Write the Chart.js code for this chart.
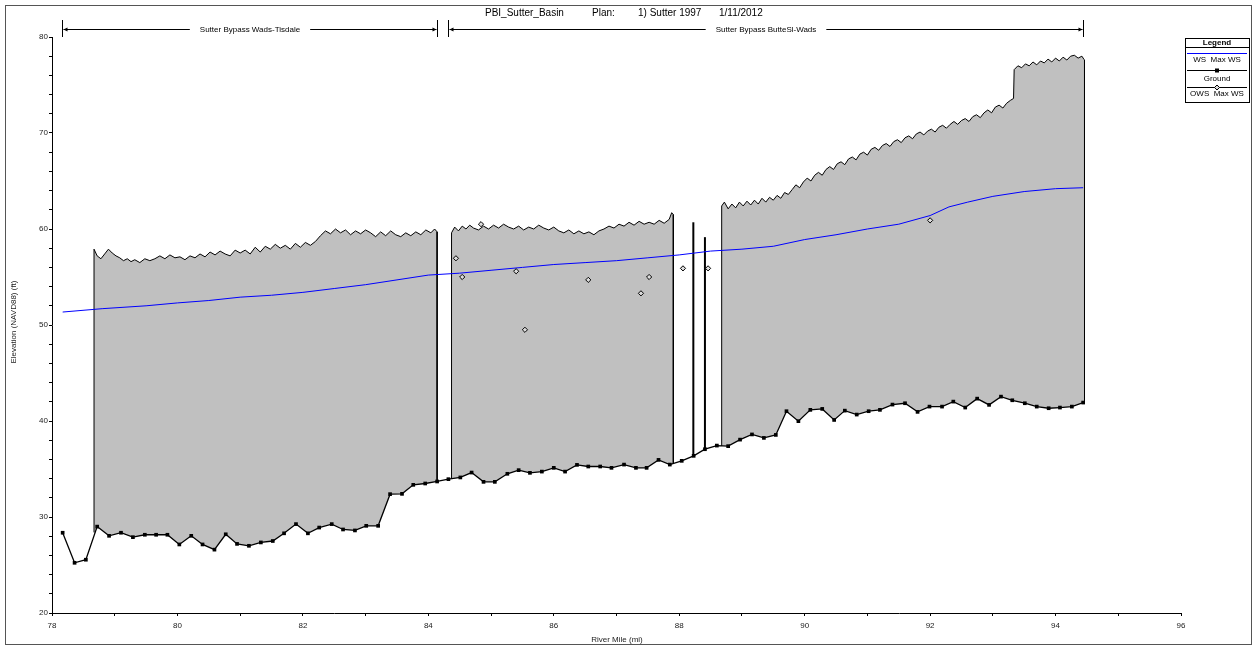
<!DOCTYPE html>
<html>
<head>
<meta charset="utf-8">
<script src="https://cdn.jsdelivr.net/npm/chart.js@4.4.0/dist/chart.umd.min.js"></script>
<style>
  html, body { margin: 0; padding: 0; background: #fff; }
  #wrap { width: 1255px; height: 646px; position: relative; }
</style>
</head>
<body>
<div id="wrap"><canvas id="profileChart"></canvas></div>
<script>
// Ground profile (river mile / elevation ft)
const groundMiles = [78.17, 78.36, 78.54, 78.72, 78.91, 79.10, 79.29, 79.48, 79.66, 79.84, 80.03, 80.22, 80.40, 80.59, 80.77, 80.95,
  81.14, 81.33, 81.52, 81.70, 81.89, 82.08, 82.26, 82.46, 82.64, 82.83, 83.01, 83.20, 83.39, 83.58, 83.76, 83.95, 84.14, 84.32,
  84.51, 84.69, 84.88, 85.06, 85.26, 85.44, 85.62, 85.81, 86.00, 86.18, 86.37, 86.55, 86.74, 86.92, 87.12, 87.31, 87.48, 87.67,
  87.85, 88.04, 88.23, 88.41, 88.60, 88.78, 88.97, 89.16, 89.35, 89.54, 89.71, 89.90, 90.09, 90.28, 90.47, 90.64, 90.83, 91.02,
  91.20, 91.40, 91.60, 91.80, 91.99, 92.19, 92.37, 92.56, 92.75, 92.94, 93.13, 93.31, 93.51, 93.70, 93.89, 94.07, 94.26, 94.44];
const groundElev = [28.36, 25.23, 25.55, 29.0, 28.04, 28.36, 27.9, 28.15, 28.15, 28.15, 27.14, 28.04, 27.14, 26.6, 28.2, 27.2,
  27.0, 27.35, 27.5, 28.3, 29.26, 28.3, 28.9, 29.26, 28.7, 28.6, 29.08, 29.08, 32.38, 32.41, 33.35, 33.49, 33.7, 33.94,
  34.12, 34.63, 33.66, 33.66, 34.5, 34.88, 34.6, 34.73, 35.12, 34.73, 35.43, 35.26, 35.26, 35.12, 35.46, 35.12, 35.12, 35.95,
  35.46, 35.85, 36.37, 37.06, 37.44, 37.38, 38.06, 38.6, 38.24, 38.55, 41.02, 39.98, 41.16, 41.26, 40.11, 41.08, 40.67, 41.02,
  41.16, 41.71, 41.85, 40.95, 41.5, 41.5, 42.02, 41.4, 42.33, 41.68, 42.54, 42.16, 41.85, 41.5, 41.33, 41.4, 41.5, 41.92];

// WS Max WS
const wsMiles = [78.17, 78.8, 79.5, 80.0, 80.5, 81.0, 81.5, 82.0, 82.5, 83.0, 83.5, 84.0, 84.5, 85.0, 85.5, 86.0, 86.5, 87.0,
  87.5, 88.0, 88.5, 89.0, 89.5, 90.0, 90.5, 91.0, 91.5, 92.0, 92.3, 92.6, 93.0, 93.5, 94.0, 94.44];
const wsElev = [51.35, 51.7, 52.0, 52.3, 52.55, 52.9, 53.1, 53.4, 53.8, 54.2, 54.7, 55.2, 55.4, 55.7, 56.0, 56.3, 56.5, 56.7,
  57.0, 57.3, 57.7, 57.9, 58.2, 58.9, 59.4, 60.0, 60.5, 61.4, 62.3, 62.8, 63.4, 63.9, 64.2, 64.3];

// OWS Max WS
const owsMiles = [84.44, 84.54, 84.84, 85.40, 85.54, 86.55, 87.39, 87.52, 88.06, 88.46, 92.0];
const owsElev = [56.95, 55.0, 60.5, 55.6, 49.5, 54.7, 53.3, 55.0, 55.9, 55.9, 60.9];

// bank / levee tops (grey blocks), first and last values are the ground at the block edges
const bankAMiles = [78.67, 78.67, 78.72, 78.78, 78.84, 78.90, 78.96, 79.02, 79.08, 79.14, 79.20, 79.26, 79.32, 79.40, 79.48, 79.56,
  79.64, 79.72, 79.80, 79.88, 79.96, 80.04, 80.12, 80.20, 80.28, 80.36, 80.44, 80.52, 80.60, 80.68, 80.76, 80.84, 80.92, 81.00,
  81.08, 81.16, 81.24, 81.32, 81.40, 81.48, 81.56, 81.64, 81.72, 81.80, 81.88, 81.96, 82.04, 82.12, 82.20, 82.28, 82.36, 82.44,
  82.52, 82.60, 82.68, 82.76, 82.84, 82.92, 83.00, 83.08, 83.16, 83.24, 83.32, 83.40, 83.48, 83.56, 83.64, 83.72, 83.80, 83.88,
  83.96, 84.04, 84.10, 84.14, 84.14];
const bankAElev = [28.4, 57.9, 57.2, 56.9, 57.4, 57.9, 57.5, 57.2, 57.0, 56.7, 56.9, 56.6, 56.8, 56.5, 56.9, 56.7,
  56.9, 57.2, 56.9, 57.3, 57.0, 57.1, 56.8, 57.2, 57.0, 57.4, 57.1, 57.6, 57.3, 57.7, 57.4, 57.2, 57.8, 57.5,
  57.8, 57.4, 58.1, 57.6, 58.2, 57.9, 58.4, 58.0, 58.3, 57.9, 58.5, 58.1, 58.6, 58.3, 58.7, 59.3, 59.8, 59.5,
  60.0, 59.6, 59.9, 59.4, 59.8, 59.5, 59.9, 59.6, 59.2, 59.7, 59.3, 59.8, 59.4, 59.2, 59.6, 59.3, 59.7, 59.4,
  59.9, 59.6, 60.0, 59.7, 33.7];

const bankBMiles = [84.37, 84.37, 84.42, 84.48, 84.54, 84.60, 84.66, 84.72, 84.80, 84.88, 84.96, 85.04, 85.12, 85.20, 85.28, 85.36,
  85.44, 85.52, 85.60, 85.68, 85.76, 85.84, 85.92, 86.00, 86.08, 86.16, 86.24, 86.32, 86.40, 86.48, 86.56, 86.64, 86.72, 86.80,
  86.88, 86.96, 87.04, 87.12, 87.20, 87.28, 87.36, 87.44, 87.52, 87.60, 87.68, 87.76, 87.84, 87.88, 87.906, 87.906];
const bankBElev = [34.0, 59.6, 60.2, 59.8, 60.3, 60.0, 60.4, 60.1, 59.9, 60.3, 60.0, 60.4, 60.1, 60.5, 60.2, 60.0,
  60.3, 59.9, 60.2, 60.0, 60.4, 60.1, 59.9, 60.2, 59.8, 59.6, 59.9, 59.5, 59.8, 59.5, 59.7, 59.4, 59.8, 60.0,
  60.3, 60.1, 60.5, 60.3, 60.7, 60.4, 60.8, 60.5, 60.7, 60.5, 60.9, 60.6, 61.0, 61.7, 61.5, 35.57];

const bankCMiles = [88.677, 88.677, 88.72, 88.78, 88.84, 88.90, 88.96, 89.02, 89.08, 89.14, 89.20, 89.26, 89.32, 89.38, 89.44, 89.50,
  89.56, 89.62, 89.68, 89.74, 89.80, 89.86, 89.92, 89.98, 90.04, 90.10, 90.16, 90.22, 90.28, 90.34, 90.40, 90.46, 90.52, 90.58,
  90.64, 90.70, 90.76, 90.82, 90.88, 90.94, 91.00, 91.06, 91.12, 91.18, 91.24, 91.30, 91.36, 91.42, 91.48, 91.54, 91.60, 91.66,
  91.72, 91.78, 91.84, 91.90, 91.96, 92.02, 92.08, 92.14, 92.20, 92.26, 92.32, 92.38, 92.44, 92.50, 92.56, 92.62, 92.68, 92.74,
  92.80, 92.86, 92.92, 92.98, 93.04, 93.10, 93.16, 93.22, 93.28, 93.33, 93.34, 93.40, 93.46, 93.52, 93.58, 93.64, 93.70, 93.76,
  93.82, 93.88, 93.94, 94.00, 94.06, 94.12, 94.18, 94.24, 94.30, 94.36, 94.42, 94.46, 94.46];
const bankCElev = [37.4, 62.4, 62.8, 62.1, 62.6, 62.2, 62.8, 62.4, 62.9, 62.5, 63.0, 62.6, 63.2, 62.8, 63.3, 63.0,
  63.5, 63.2, 63.8, 63.6, 64.1, 64.6, 64.3, 64.9, 65.3, 65.0, 65.6, 65.9, 65.6, 66.2, 66.5, 66.2, 66.8, 67.0,
  66.7, 67.3, 67.5, 67.2, 67.8, 68.0, 67.7, 68.3, 68.5, 68.2, 68.7, 68.9, 68.6, 69.1, 69.3, 69.0, 69.5, 69.7,
  69.4, 69.9, 70.1, 69.8, 70.2, 70.4, 70.1, 70.6, 70.8, 70.5, 70.9, 71.2, 70.9, 71.3, 71.5, 71.2, 71.7, 71.9,
  71.6, 72.1, 72.4, 72.1, 72.7, 72.9, 72.6, 73.1, 73.4, 73.6, 76.6, 77.0, 76.8, 77.2, 77.0, 77.4, 77.1, 77.5,
  77.3, 77.7, 77.4, 77.8, 77.5, 77.9, 77.6, 78.0, 78.1, 77.8, 78.0, 77.6, 41.92];

// single-section spikes between the blocks
const spike1Miles = [88.225, 88.225];
const spike1Elev = [36.37, 60.7];
const spike2Miles = [88.41, 88.41];
const spike2Elev = [37.06, 59.15];

const xTicksMin = 78, xTicksMax = 96;
const yTicksMin = 20, yTicksMax = 80;

const pts = (xs, ys) => xs.map((x, i) => ({ x: x, y: ys[i] }));
const FONT = "'Liberation Sans', Arial, sans-serif";
Chart.defaults.font.family = FONT;

const bankStyle = {
    showLine: true,
    fill: 0,
    backgroundColor: '#c0c0c0',
    borderColor: '#000',
    borderWidth: 1,
    pointRadius: 0,
    tension: 0,
    order: 10
};

const decorPlugin = {
    id: 'decor',
    afterDraw(chart) {
        const c = chart.ctx;
        const xs = chart.scales.x;
        c.save();
        // outer frame
        c.strokeStyle = '#555';
        c.lineWidth = 1;
        c.strokeRect(5.5, 5.5, 1246, 639);

        // header
        c.fillStyle = '#000';
        c.font = '10px ' + FONT;
        c.textBaseline = 'middle';
        c.textAlign = 'left';
        c.fillText('PBI_Sutter_Basin', 485, 13);
        c.fillText('Plan:', 592, 13);
        c.fillText('1) Sutter 1997', 638, 13);
        c.fillText('1/11/2012', 719, 13);

        // reach labels with arrows
        const reach = (m0, m1, label) => {
            const x0 = Math.round(xs.getPixelForValue(m0)) + 0.5;
            const x1 = Math.round(xs.getPixelForValue(m1)) + 0.5;
            const y = 29.5;
            c.font = '8px ' + FONT;
            const tw = c.measureText(label).width;
            const mid = (x0 + x1) / 2;
            c.strokeStyle = '#000';
            c.lineWidth = 1;
            c.beginPath();
            c.moveTo(x0, 20); c.lineTo(x0, 37);
            c.moveTo(x1, 20); c.lineTo(x1, 37);
            c.moveTo(x0 + 1, y); c.lineTo(mid - tw / 2 - 10, y);
            c.moveTo(mid + tw / 2 + 10, y); c.lineTo(x1 - 1, y);
            c.stroke();
            c.fillStyle = '#000';
            c.beginPath();
            c.moveTo(x0 + 1, y); c.lineTo(x0 + 5, y - 2); c.lineTo(x0 + 5, y + 2); c.closePath();
            c.moveTo(x1 - 1, y); c.lineTo(x1 - 5, y - 2); c.lineTo(x1 - 5, y + 2); c.closePath();
            c.fill();
            c.textAlign = 'center';
            c.fillText(label, mid, y);
        };
        reach(78.16, 84.14, 'Sutter Bypass Wads-Tisdale');
        reach(84.31, 94.44, 'Sutter Bypass ButteSl-Wads');

        // axis titles
        c.fillStyle = '#222';
        c.font = '8px ' + FONT;
        c.textAlign = 'center';
        c.fillText('River Mile (mi)', 617, 640);
        c.save();
        c.translate(14, 322);
        c.rotate(-Math.PI / 2);
        c.fillText('Elevation (NAVD88) (ft)', 0, 0);
        c.restore();

        // legend box
        const lx = 1185, ly = 38, lw = 64, lh = 64;
        c.fillStyle = '#fff';
        c.fillRect(lx, ly, lw, lh);
        c.strokeStyle = '#000';
        c.lineWidth = 1;
        c.strokeRect(lx + 0.5, ly + 0.5, lw, lh);
        c.beginPath();
        c.moveTo(lx, 47.5); c.lineTo(lx + lw, 47.5);
        c.stroke();
        c.fillStyle = '#000';
        c.font = 'bold 8px ' + FONT;
        c.fillText('Legend', lx + lw / 2, 43);
        c.font = '8px ' + FONT;
        c.strokeStyle = '#0000ff';
        c.beginPath(); c.moveTo(lx + 2, 53.5); c.lineTo(lx + lw - 2, 53.5); c.stroke();
        c.fillText('WS  Max WS', lx + lw / 2, 60);
        c.strokeStyle = '#000';
        c.beginPath(); c.moveTo(lx + 2, 70.5); c.lineTo(lx + lw - 2, 70.5); c.stroke();
        c.fillRect(lx + lw / 2 - 2, 68.5, 4, 4);
        c.fillText('Ground', lx + lw / 2, 79);
        c.beginPath(); c.moveTo(lx + 2, 87.5); c.lineTo(lx + lw - 2, 87.5); c.stroke();
        c.beginPath();
        c.moveTo(lx + lw / 2, 85); c.lineTo(lx + lw / 2 + 2.5, 87.5);
        c.lineTo(lx + lw / 2, 90); c.lineTo(lx + lw / 2 - 2.5, 87.5); c.closePath();
        c.fillStyle = '#ddd'; c.fill(); c.stroke();
        c.fillStyle = '#000';
        c.fillText('OWS  Max WS', lx + lw / 2, 94);
        c.restore();
    }
};

const ctx = document.getElementById('profileChart').getContext('2d');
new Chart(ctx, {
    type: 'scatter',
    data: {
        datasets: [
            {
                label: 'Ground',
                data: pts(groundMiles, groundElev),
                showLine: true,
                borderColor: '#000',
                borderWidth: 1.3,
                pointStyle: 'rect',
                pointRadius: 2.6,
                pointBackgroundColor: '#000',
                pointBorderColor: '#000',
                pointBorderWidth: 0,
                tension: 0,
                order: 2
            },
            {
                label: 'WS Max WS',
                data: pts(wsMiles, wsElev),
                showLine: true,
                borderColor: '#0000ff',
                borderWidth: 1,
                pointRadius: 0,
                tension: 0,
                order: 3
            },
            Object.assign({ label: 'bankA', data: pts(bankAMiles, bankAElev) }, bankStyle),
            Object.assign({ label: 'bankB', data: pts(bankBMiles, bankBElev) }, bankStyle),
            Object.assign({ label: 'bankC', data: pts(bankCMiles, bankCElev) }, bankStyle),
            {
                label: 'spike1',
                data: pts(spike1Miles, spike1Elev),
                showLine: true, borderColor: '#000', borderWidth: 2, pointRadius: 0, order: 9
            },
            {
                label: 'spike2',
                data: pts(spike2Miles, spike2Elev),
                showLine: true, borderColor: '#000', borderWidth: 2, pointRadius: 0, order: 9
            },
            {
                label: 'OWS Max WS',
                data: pts(owsMiles, owsElev),
                showLine: false,
                pointStyle: 'rectRot',
                pointRadius: 2.6,
                pointBackgroundColor: '#ddd',
                pointBorderColor: '#000',
                pointBorderWidth: 1,
                order: 1
            }
        ]
    },
    options: {
        responsive: true,
        maintainAspectRatio: false,
        animation: false,
        layout: { padding: { left: 0, right: 74, top: 37, bottom: 0 } },
        plugins: {
            legend: { display: false },
            tooltip: { enabled: false }
        },
        scales: {
            x: {
                type: 'linear',
                min: xTicksMin,
                max: xTicksMax,
                afterFit: (s) => { s.height = 33; },
                border: { display: true, color: '#000', width: 1 },
                grid: { drawOnChartArea: false, drawTicks: true, tickLength: 3, color: '#000' },
                ticks: {
                    stepSize: 1,
                    autoSkip: false,
                    maxRotation: 0,
                    padding: 5,
                    color: '#222',
                    font: { size: 8 },
                    callback: (v) => (v % 2 === 0 ? v : '')
                }
            },
            y: {
                type: 'linear',
                min: yTicksMin,
                max: yTicksMax,
                afterFit: (s) => { s.width = 52; },
                border: { display: true, color: '#000', width: 1 },
                grid: { drawOnChartArea: false, drawTicks: true, tickLength: 3, color: '#000' },
                ticks: {
                    stepSize: 2,
                    autoSkip: false,
                    padding: 1,
                    color: '#222',
                    font: { size: 8 },
                    callback: (v) => (v % 10 === 0 ? v : '')
                }
            }
        }
    },
    plugins: [decorPlugin]
});
</script>
</body>
</html>
